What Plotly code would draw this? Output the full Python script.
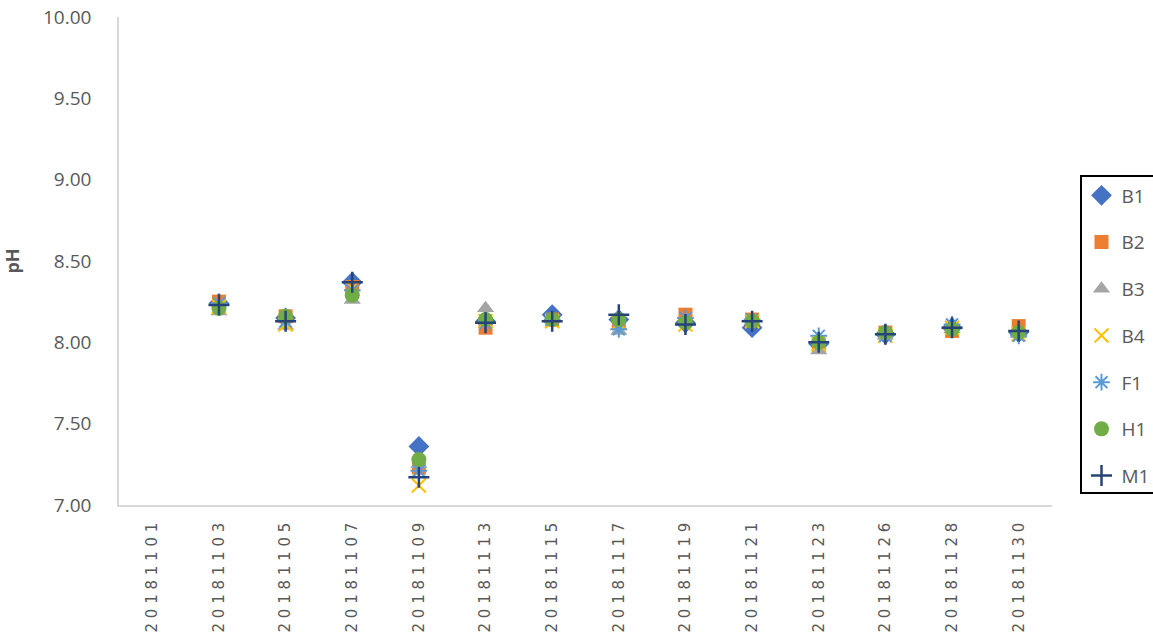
import plotly.graph_objects as go

# Sampling dates (categorical x axis)
dates = ["20181101", "20181103", "20181105", "20181107", "20181109", "20181113",
         "20181115", "20181117", "20181119", "20181121", "20181123", "20181126",
         "20181128", "20181130"]

# pH per station; None = not measured
B1 = [None, 8.24, 8.15, 8.37, 7.36, 8.13, 8.17, 8.14, 8.12, 8.09, 7.99, 8.05, 8.09, 8.06]
B2 = [None, 8.25, 8.16, 8.34, 7.23, 8.09, 8.14, 8.12, 8.17, 8.14, 7.98, 8.06, 8.07, 8.10]
B3 = [None, 8.19, 8.10, 8.26, 7.25, 8.21, 8.14, 8.07, 8.13, 8.13, 7.95, 8.04, 8.08, 8.05]
B4 = [None, 8.22, 8.11, 8.33, 7.12, 8.13, 8.13, 8.12, 8.11, 8.13, 7.99, 8.04, 8.09, 8.05]
F1 = [None, 8.24, 8.13, 8.32, 7.21, 8.12, 8.14, 8.08, 8.15, 8.14, 8.04, 8.04, 8.11, 8.04]
H1 = [None, 8.21, 8.16, 8.29, 7.28, 8.14, 8.14, 8.14, 8.12, 8.13, 8.00, 8.06, 8.08, 8.06]
M1 = [None, 8.23, 8.13, 8.37, 7.17, 8.12, 8.13, 8.17, 8.11, 8.13, 8.00, 8.05, 8.09, 8.07]

y_ticks = [7.0, 7.5, 8.0, 8.5, 9.0, 9.5, 10.0]

series = [
    ("B1", B1, "diamond", "#4472C4", 16, None),
    ("B2", B2, "square", "#ED7D31", 14, None),
    ("B3", B3, "triangle-up", "#A5A5A5", 15, None),
    ("B4", B4, "x-thin", "#FFC000", 14, 2),
    ("F1", F1, "asterisk", "#5B9BD5", 14, 2),
    ("H1", H1, "circle", "#70AD47", 15, None),
    ("M1", M1, "cross-thin", "#264478", 15, 2.5),
]

fig = go.Figure()
for i, (name, vals, sym, col, size, lw) in enumerate(series):
    marker = dict(symbol=sym, color=col, size=size)
    if lw is not None:
        marker["line"] = dict(color=col, width=lw)
    else:
        marker["line"] = dict(width=0)
    fig.add_trace(go.Scatter(
        x=dates, y=vals, mode="markers", name=name, marker=marker,
        legendgroup=f"g{i}",
    ))

# Spaced-out tick text for the rotated date labels
tick_text = [" ".join(d) for d in dates]

fig.update_layout(
    width=1153, height=637,
    margin=dict(l=119, r=101, t=17, b=132, autoexpand=False),
    paper_bgcolor="white", plot_bgcolor="white",
    font=dict(family="DejaVu Sans", color="#595959"),
    showlegend=True,
    legend=dict(
        xref="container", yref="container",
        x=1080 / 1153, y=1 - 175 / 637, xanchor="left", yanchor="top",
        bordercolor="black", borderwidth=1.5,
        font=dict(family="Open Sans", size=19, color="#595959"),
        tracegroupgap=19, traceorder="grouped",
        itemwidth=30,
    ),
)

fig.update_xaxes(
    type="category", categoryorder="array", categoryarray=dates,
    range=[-0.5, len(dates) - 0.5],
    tickmode="array", tickvals=dates, ticktext=tick_text,
    tickangle=-90, tickfont=dict(family="DejaVu Sans", size=15, color="#595959"),
    showline=True, linecolor="#D9D9D9", linewidth=1.5,
    showgrid=False, zeroline=False, ticks="", ticklabelstandoff=10,
    automargin=False,
)

fig.update_yaxes(
    range=[7, 10], tickmode="array", tickvals=y_ticks,
    ticktext=[f"{v:.2f}" for v in y_ticks],
    tickfont=dict(family="Open Sans", size=19, color="#595959"),
    showline=True, linecolor="#D9D9D9", linewidth=1.5,
    showgrid=False, zeroline=False, ticks="", ticklabelstandoff=22,
    title=dict(text="<b>pH</b>", font=dict(family="Open Sans", size=18, color="#595959"),
               standoff=28),
    automargin=False,
)

fig.write_html("out.html")
